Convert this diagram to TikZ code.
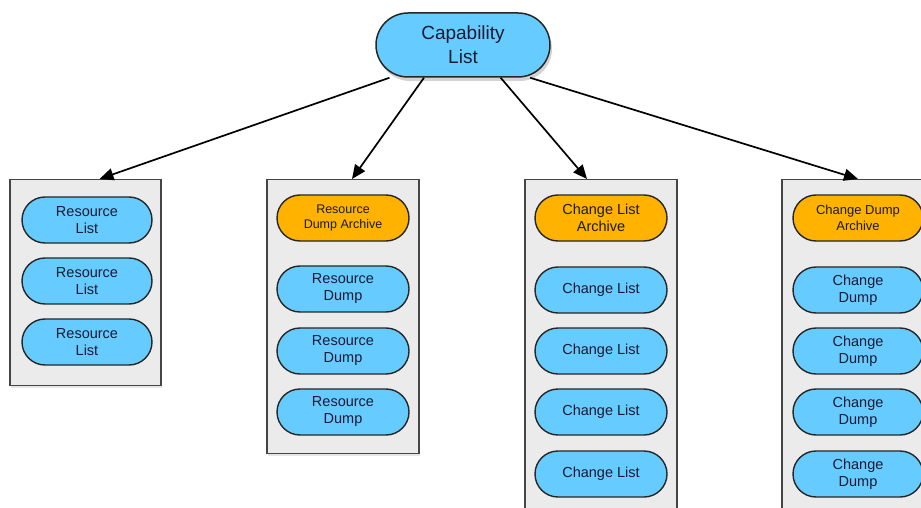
\documentclass[tikz,border=0pt]{standalone}
\usepackage{fontspec}
\setmainfont{Liberation Sans}
\usetikzlibrary{arrows.meta, shadows}
\definecolor{capblue}{HTML}{66CCFF}
\definecolor{archorange}{HTML}{FFB300}
\definecolor{panelgrey}{HTML}{EBEBEB}
\definecolor{paneledge}{HTML}{454545}
\definecolor{inkblue}{HTML}{1A1A33}

\tikzset{
  panel/.style={rectangle, draw=paneledge, line width=1.3pt, fill=panelgrey, minimum width=151pt, anchor=north,
    drop shadow={opacity=0.2, shadow xshift=1pt, shadow yshift=-2pt}},
  item/.style={rectangle, rounded corners=23pt, draw=black!85, line width=1.4pt, fill=capblue, text=inkblue,
    minimum width=130pt, minimum height=46pt, inner sep=0pt, align=center, font=\fontsize{14.5}{17}\selectfont},
  archive/.style={item, fill=archorange},
  link/.style={-{Triangle[length=14pt,width=12pt]}, line width=1.7pt}
}

\begin{document}
\begin{tikzpicture}[x=1pt, y=-1pt]
\clip (0,0) rectangle (921,508);

% Top node
\node[rectangle, rounded corners=32pt, draw=black!85, line width=1.5pt, fill=capblue, text=inkblue, minimum width=174pt, minimum height=64pt,
  align=center, font=\fontsize{19}{24}\selectfont, drop shadow={opacity=0.35, shadow xshift=2pt, shadow yshift=-4pt}]
  (cap) at (463,45) {Capability\\List};

% Panels
\node[panel, minimum height=206pt] (reslist) at (85.5,179) {};
\node[panel, minimum width=152pt, minimum height=274pt] (resdump) at (343,179) {};
\node[panel, minimum width=152pt, minimum height=345pt] (chlist) at (601,179) {};
\node[panel, minimum width=152pt, minimum height=345pt] (chdump) at (858,179) {};

% Resource lists
\node[item] (rl1) at (87,220) {Resource\\List};
\node[item] (rl2) at (87,281) {Resource\\List};
\node[item] (rl3) at (87,342) {Resource\\List};

% Resource dumps
\node[archive, minimum width=132pt, font=\fontsize{12.5}{15}\selectfont] (rda) at (343,218) {Resource\\Dump Archive};
\node[item, minimum width=132pt] (rd1) at (343,289) {Resource\\Dump};
\node[item, minimum width=132pt] (rd2) at (343,351) {Resource\\Dump};
\node[item, minimum width=132pt] (rd3) at (343,412) {Resource\\Dump};

% Change lists
\node[archive, minimum width=132pt] (cla) at (601,218) {Change List\\Archive};
\node[item, minimum width=132pt] (cl1) at (601,290) {Change List};
\node[item, minimum width=132pt] (cl2) at (601,351) {Change List};
\node[item, minimum width=132pt] (cl3) at (601,412) {Change List};
\node[item, minimum width=132pt] (cl4) at (601,474) {Change List};

% Change dumps
\node[archive, font=\fontsize{13}{15.5}\selectfont] (cda) at (858,218) {Change Dump\\Archive};
\node[item] (cd1) at (858,290) {Change\\Dump};
\node[item] (cd2) at (858,351) {Change\\Dump};
\node[item] (cd3) at (858,412) {Change\\Dump};
\node[item] (cd4) at (858,474) {Change\\Dump};

% Arrows
\coordinate (t1) at ([xshift=14pt]reslist.north);
\coordinate (t2) at ([xshift=9pt]resdump.north);
\coordinate (t3) at ([xshift=-14pt]chlist.north);
\coordinate (t4) at (chdump.north);
\draw[link] (cap.204) -- (t1);
\draw[link] (cap.220) -- (t2);
\draw[link] (cap.319) -- (t3);
\draw[link] (cap.334) -- (t4);
\end{tikzpicture}
\end{document}
